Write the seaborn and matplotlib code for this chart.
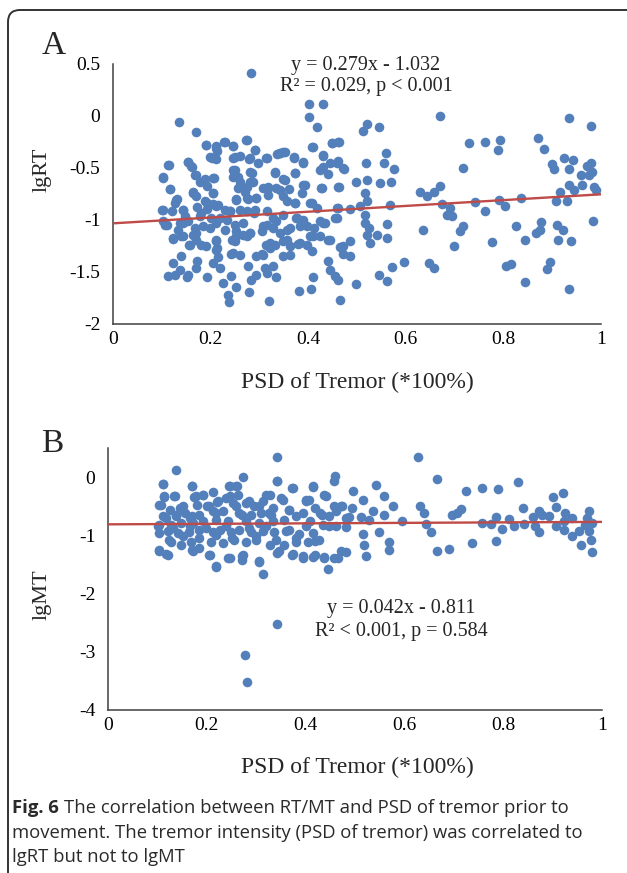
import numpy as np
import matplotlib.pyplot as plt
import seaborn as sns
from matplotlib.patches import FancyBboxPatch
from matplotlib.transforms import IdentityTransform
from matplotlib.ticker import FuncFormatter

# ---- Panel A: lgRT vs PSD of tremor ----
rt_psd = [
    0.283, 0.136, 0.171, 0.190, 0.211, 0.214, 0.227, 0.245, 0.272, 0.291,
    0.313, 0.337, 0.198, 0.212, 0.246, 0.260, 0.279, 0.298, 0.114, 0.154,
    0.159, 0.103, 0.116, 0.168, 0.178, 0.207, 0.192, 0.164, 0.171, 0.205,
    0.250, 0.246, 0.260, 0.274, 0.284, 0.287, 0.257, 0.270, 0.253, 0.277,
    0.294, 0.308, 0.318, 0.332, 0.335, 0.318, 0.131, 0.127, 0.101, 0.120,
    0.144, 0.147, 0.172, 0.188, 0.192, 0.205, 0.216, 0.229, 0.240, 0.181,
    0.201, 0.219, 0.260, 0.274, 0.291, 0.315, 0.328, 0.103, 0.110, 0.137,
    0.154, 0.168, 0.185, 0.212, 0.229, 0.250, 0.253, 0.267, 0.281, 0.305,
    0.315, 0.328, 0.133, 0.122, 0.140, 0.163, 0.171, 0.156, 0.181, 0.190,
    0.211, 0.214, 0.243, 0.250, 0.274, 0.313, 0.322, 0.332, 0.140, 0.122,
    0.137, 0.172, 0.171, 0.205, 0.216, 0.219, 0.241, 0.260, 0.276, 0.294,
    0.305, 0.311, 0.328, 0.113, 0.127, 0.151, 0.154, 0.193, 0.242, 0.226,
    0.252, 0.283, 0.294, 0.315, 0.335, 0.279, 0.236, 0.237, 0.320,
    # middle
    0.402, 0.431, 0.402, 0.418, 0.520, 0.513, 0.545, 0.671, 0.409, 0.448,
    0.463, 0.342, 0.352, 0.370, 0.390, 0.431, 0.431, 0.445, 0.462, 0.474,
    0.441, 0.519, 0.560, 0.556, 0.576, 0.373, 0.352, 0.390, 0.387, 0.361,
    0.426, 0.463, 0.498, 0.521, 0.548, 0.570, 0.630, 0.643, 0.657, 0.671,
    0.517, 0.520, 0.356, 0.373, 0.407, 0.418, 0.462, 0.486, 0.506, 0.568,
    0.674, 0.517, 0.517, 0.459, 0.349, 0.377, 0.390, 0.424, 0.434, 0.363,
    0.383, 0.411, 0.404, 0.424, 0.441, 0.524, 0.520, 0.541, 0.561, 0.561,
    0.526, 0.636, 0.349, 0.363, 0.380, 0.397, 0.407, 0.349, 0.465, 0.471,
    0.486, 0.486, 0.440, 0.445, 0.455, 0.462, 0.410, 0.405, 0.382, 0.465,
    0.498, 0.546, 0.561, 0.572, 0.597, 0.647, 0.657, 0.684,
    # right
    0.729, 0.763, 0.794, 0.789, 0.871, 0.883, 0.934, 0.980, 0.717, 0.899,
    0.903, 0.925, 0.943, 0.934, 0.972, 0.979, 0.982, 0.975, 0.958, 0.934,
    0.944, 0.962, 0.986, 0.989, 0.916, 0.907, 0.931, 0.741, 0.690, 0.695,
    0.763, 0.790, 0.803, 0.836, 0.717, 0.712, 0.699, 0.777, 0.826, 0.845,
    0.866, 0.878, 0.876, 0.910, 0.922, 0.912, 0.938, 0.983, 0.806, 0.816,
    0.895, 0.889, 0.845, 0.934,
    # dense core
    0.190, 0.212, 0.229, 0.246, 0.274, 0.291, 0.202, 0.250, 0.281, 0.315,
    0.342, 0.349, 0.370, 0.390, 0.407, 0.431, 0.448, 0.462, 0.113, 0.154,
    0.161, 0.103, 0.116, 0.171, 0.188, 0.205, 0.246, 0.257, 0.281, 0.281,
    0.332, 0.349, 0.373, 0.393, 0.424, 0.458, 0.472, 0.428, 0.462, 0.164,
    0.205, 0.130, 0.103, 0.144, 0.192, 0.212, 0.240, 0.253, 0.274, 0.294,
    0.318, 0.342, 0.349, 0.373, 0.404, 0.458, 0.106, 0.144, 0.178, 0.199,
    0.233, 0.267, 0.288, 0.308, 0.335, 0.356, 0.376, 0.397, 0.431, 0.455,
    0.123, 0.144, 0.171, 0.212, 0.253, 0.281, 0.322, 0.342, 0.356, 0.383,
    0.410, 0.445, 0.472, 0.157, 0.212, 0.246, 0.308, 0.363,
]
rt_lg = [
    0.41, -0.054, -0.157, -0.28, -0.285, -0.34, -0.246, -0.285, -0.234, -0.326,
    -0.406, -0.368, -0.39, -0.416, -0.406, -0.384, -0.413, -0.454, -0.47, -0.438,
    -0.48, -0.59, -0.70, -0.566, -0.63, -0.598, -0.669, -0.726, -0.768, -0.742,
    -0.518, -0.582, -0.63, -0.678, -0.55, -0.63, -0.694, -0.726, -0.797, -0.797,
    -0.79, -0.694, -0.678, -0.55, -0.694, -0.758, -0.797, -0.838, -0.902, -0.918,
    -0.902, -0.966, -0.877, -0.822, -0.893, -0.848, -0.854, -0.902, -0.918, -0.934,
    -0.982, -0.982, -0.902, -0.918, -0.902, -0.918, -0.982, -1.014, -1.046, -1.03,
    -1.014, -1.078, -1.062, -1.03, -1.094, -1.046, -1.11, -1.142, -1.126, -1.11,
    -1.046, -1.078, -1.094, -1.18, -1.158, -1.142, -1.19, -1.245, -1.238, -1.254,
    -1.2, -1.27, -1.19, -1.206, -1.158, -1.245, -1.27, -1.238, -1.344, -1.414,
    -1.478, -1.395, -1.459, -1.41, -1.36, -1.459, -1.328, -1.334, -1.443, -1.35,
    -1.328, -1.462, -1.443, -1.542, -1.532, -1.552, -1.526, -1.552, -1.536, -1.609,
    -1.641, -1.577, -1.526, -1.51, -1.552, -1.695, -1.724, -1.791, -1.775,
    # middle
    0.112, 0.112, -0.006, -0.102, -0.077, -0.141, -0.109, 0.0, -0.298, -0.262,
    -0.253, -0.358, -0.342, -0.394, -0.445, -0.381, -0.486, -0.454, -0.432, -0.509,
    -0.56, -0.448, -0.352, -0.448, -0.512, -0.55, -0.614, -0.662, -0.742, -0.70,
    -0.688, -0.678, -0.63, -0.614, -0.64, -0.637, -0.733, -0.774, -0.726, -0.669,
    -0.742, -0.822, -0.822, -0.838, -0.838, -0.886, -0.88, -0.893, -0.87, -0.86,
    -0.848, -0.95, -1.03, -0.982, -0.95, -0.982, -0.998, -1.014, -1.03, -1.078,
    -1.062, -1.078, -1.158, -1.158, -1.19, -1.078, -1.142, -1.142, -1.04, -1.174,
    -1.222, -1.094, -1.206, -1.254, -1.232, -1.238, -1.302, -1.35, -1.264, -1.328,
    -1.206, -1.35, -1.392, -1.478, -1.542, -1.574, -1.552, -1.66, -1.686, -1.766,
    -1.612, -1.532, -1.59, -1.452, -1.404, -1.414, -1.462, -0.95,
    # right
    -0.256, -0.246, -0.23, -0.326, -0.208, -0.32, -0.016, -0.096, -0.496, -0.464,
    -0.512, -0.406, -0.422, -0.512, -0.48, -0.454, -0.534, -0.566, -0.572, -0.662,
    -0.71, -0.662, -0.678, -0.71, -0.726, -0.813, -0.822, -0.829, -0.88, -0.966,
    -0.912, -0.806, -0.87, -0.79, -1.062, -1.104, -1.248, -1.216, -1.056, -1.19,
    -1.126, -1.024, -1.094, -1.046, -1.094, -1.19, -1.206, -1.014, -1.44, -1.42,
    -1.404, -1.472, -1.6, -1.664,
    # dense core
    -0.278, -0.31, -0.246, -0.288, -0.23, -0.326, -0.406, -0.396, -0.406, -0.406,
    -0.358, -0.342, -0.406, -0.448, -0.30, -0.374, -0.262, -0.252, -0.47, -0.438,
    -0.486, -0.592, -0.704, -0.566, -0.608, -0.598, -0.518, -0.582, -0.534, -0.63,
    -0.534, -0.608, -0.55, -0.662, -0.518, -0.454, -0.502, -0.694, -0.684, -0.742,
    -0.742, -0.806, -0.902, -0.902, -0.838, -0.87, -0.918, -0.806, -0.79, -0.79,
    -0.694, -0.71, -0.774, -0.838, -0.838, -0.886, -1.046, -1.03, -0.966, -1.078,
    -0.998, -1.03, -0.934, -1.062, -1.014, -1.094, -0.982, -1.062, -1.03, -0.982,
    -1.174, -1.158, -1.126, -1.19, -1.158, -1.126, -1.222, -1.126, -1.19, -1.222,
    -1.158, -1.19, -1.254, -1.238, -1.286, -1.318, -1.334, -1.334,
]

# ---- Panel B: lgMT vs PSD of tremor ----
mt_psd = [
    0.137, 0.112, 0.170, 0.273, 0.244, 0.259, 0.213, 0.342, 0.342, 0.114,
    0.135, 0.108, 0.125, 0.145, 0.155, 0.174, 0.192, 0.180, 0.200, 0.220,
    0.239, 0.263, 0.254, 0.279, 0.296, 0.313, 0.327, 0.333, 0.212, 0.232,
    0.185, 0.165, 0.138, 0.118, 0.266, 0.290, 0.310, 0.330, 0.104, 0.128,
    0.148, 0.172, 0.192, 0.219, 0.242, 0.279, 0.306, 0.333, 0.103, 0.121,
    0.141, 0.164, 0.185, 0.212, 0.226, 0.249, 0.266, 0.290, 0.313, 0.337,
    0.128, 0.148, 0.168, 0.185, 0.209, 0.232, 0.256, 0.279, 0.300, 0.327,
    0.343, 0.103, 0.118, 0.172, 0.207, 0.242, 0.274, 0.271, 0.219, 0.305,
    0.313, 0.343, 0.277, 0.281,
    # middle
    0.628, 0.459, 0.666, 0.375, 0.414, 0.543, 0.495, 0.441, 0.559, 0.517,
    0.354, 0.400, 0.406, 0.472, 0.494, 0.458, 0.576, 0.632, 0.640, 0.537,
    0.559, 0.367, 0.394, 0.429, 0.448, 0.488, 0.512, 0.529, 0.357, 0.408,
    0.435, 0.461, 0.482, 0.595, 0.643, 0.653, 0.549, 0.517, 0.360, 0.387,
    0.414, 0.381, 0.404, 0.428, 0.357, 0.519, 0.568, 0.568, 0.667, 0.374,
    0.394, 0.414, 0.438, 0.465, 0.481, 0.522, 0.445,
    # right
    0.724, 0.758, 0.789, 0.830, 0.921, 0.900, 0.906, 0.840, 0.714, 0.707,
    0.696, 0.785, 0.812, 0.758, 0.775, 0.798, 0.822, 0.842, 0.860, 0.872,
    0.879, 0.892, 0.865, 0.873, 0.906, 0.923, 0.926, 0.939, 0.924, 0.939,
    0.953, 0.966, 0.974, 0.970, 0.980, 0.973, 0.977, 0.957, 0.979, 0.737,
    0.786, 0.690,
    # dense band
    0.111, 0.170, 0.246, 0.262, 0.343, 0.373, 0.414, 0.458, 0.114, 0.134,
    0.178, 0.192, 0.246, 0.222, 0.286, 0.320, 0.350, 0.400, 0.437, 0.474,
    0.104, 0.151, 0.205, 0.259, 0.306, 0.367, 0.420, 0.461, 0.111, 0.138,
    0.171, 0.219, 0.272, 0.326, 0.380, 0.434, 0.481, 0.101, 0.131, 0.165,
    0.198, 0.239, 0.286, 0.320, 0.367, 0.400, 0.447, 0.124, 0.151, 0.185,
    0.219, 0.252, 0.299, 0.340, 0.380, 0.420, 0.104, 0.121, 0.171, 0.205,
    0.246, 0.272, 0.306, 0.346, 0.373, 0.394, 0.420, 0.437, 0.471, 0.219, 0.458,
]
mt_lg = [
    0.126, -0.115, -0.149, 0.0, -0.16, -0.16, -0.264, 0.344, -0.075, -0.344,
    -0.332, -0.476, -0.562, -0.533, -0.619, -0.35, -0.315, -0.476, -0.504, -0.43,
    -0.361, -0.304, -0.447, -0.447, -0.504, -0.418, -0.304, -0.533, -0.59, -0.59,
    -0.648, -0.705, -0.676, -0.705, -0.619, -0.648, -0.619, -0.648, -0.82, -0.82,
    -0.791, -0.791, -0.762, -0.734, -0.762, -0.762, -0.791, -0.762, -0.963, -0.923,
    -0.963, -0.946, -0.905, -0.946, -0.905, -0.946, -0.905, -0.946, -0.923, -0.946,
    -1.106, -1.163, -1.106, -1.221, -1.106, -1.135, -1.077, -1.106, -1.077, -1.163,
    -1.307, -1.261, -1.324, -1.267, -1.335, -1.393, -1.335, -1.421, -1.547, -1.461,
    -1.656, -2.521, -3.054, -3.524,
    # middle
    0.344, 0.011, -0.034, -0.189, -0.178, -0.143, -0.246, -0.332, -0.332, -0.401,
    -0.39, -0.418, -0.401, -0.504, -0.522, -0.504, -0.504, -0.504, -0.619, -0.59,
    -0.648, -0.562, -0.619, -0.619, -0.676, -0.693, -0.693, -0.734, -0.734, -0.762,
    -0.82, -0.848, -0.865, -0.762, -0.808, -0.946, -0.946, -0.98, -0.934, -0.98,
    -0.963, -1.106, -1.106, -1.077, -1.163, -1.163, -1.106, -1.249, -1.267, -1.324,
    -1.381, -1.364, -1.364, -1.393, -1.278, -1.352, -1.576,
    # right
    -0.246, -0.189, -0.201, -0.086, -0.275, -0.35, -0.516, -0.522, -0.544, -0.619,
    -0.648, -0.693, -0.716, -0.791, -0.808, -0.888, -0.848, -0.808, -0.693, -0.59,
    -0.648, -0.676, -0.848, -0.946, -0.848, -0.762, -0.619, -0.705, -0.905, -1.02,
    -0.934, -0.82, -0.579, -0.705, -0.791, -0.934, -1.077, -1.163, -1.278, -1.135,
    -1.095, -1.238,
    # dense band
    -0.115, -0.149, -0.149, -0.161, -0.075, -0.189, -0.161, -0.075, -0.332, -0.321,
    -0.321, -0.304, -0.332, -0.418, -0.418, -0.304, -0.361, -0.39, -0.304, -0.504,
    -0.476, -0.504, -0.504, -0.504, -0.504, -0.561, -0.533, -0.59, -0.676, -0.647,
    -0.676, -0.619, -0.647, -0.619, -0.676, -0.647, -0.705, -0.848, -0.876, -0.848,
    -0.876, -0.848, -0.876, -0.848, -0.905, -0.848, -0.848, -1.077, -1.02, -1.048,
    -0.991, -1.048, -1.02, -1.077, -1.048, -1.105, -1.249, -1.335, -1.249, -1.335,
    -1.392, -1.363, -1.449, -1.277, -1.335, -1.363, -1.335, -1.392, -1.277, -1.535, -1.392,
]

# reported linear fits
rt_fit = (0.279, -1.032)
mt_fit = (0.042, -0.811)
rt_text = ["y = 0.279x - 1.032", "R\u00b2 = 0.029, p < 0.001"]
mt_text = ["y = 0.042x - 0.811", "R\u00b2 < 0.001, p = 0.584"]

x_ticks = [0, 0.2, 0.4, 0.6, 0.8, 1]
rt_ticks = [0.5, 0, -0.5, -1, -1.5, -2]
mt_ticks = [0, -1, -2, -3, -4]

DOT = "#5380BA"
FIT = "#BE4B48"
AXC = "#404040"

sns.set_style("white")
plt.rcParams["font.family"] = ["Liberation Serif", "DejaVu Serif"]
plt.rcParams["axes.unicode_minus"] = False

W, H = 627, 873
fig = plt.figure(figsize=(W / 100, H / 100), dpi=100)


def box(l, t, r, b):
    # pixel box -> figure fraction
    return [l / W, 1 - b / H, (r - l) / W, (b - t) / H]


def px(x, y):
    return x / W, 1 - y / H


ax_a = fig.add_axes(box(113, 64, 601, 324))
ax_b = fig.add_axes(box(108, 448, 602, 710))

panels = [
    (ax_a, rt_psd, rt_lg, rt_fit, rt_ticks, (-2, 0.5)),
    (ax_b, mt_psd, mt_lg, mt_fit, mt_ticks, (-4, 0.5)),
]
for ax, xs, ys, fit, yt, ylim in panels:
    sns.scatterplot(x=xs, y=ys, ax=ax, color=DOT, s=48, linewidth=0, zorder=2)
    fx = np.array([0.0, 1.0])
    sns.lineplot(x=fx, y=fit[0] * fx + fit[1], ax=ax, color=FIT, lw=1.7, zorder=3)
    ax.set_xlim(0, 1)
    ax.set_ylim(*ylim)
    ax.set_xticks(x_ticks)
    ax.set_yticks(yt)
    fmt = FuncFormatter(lambda v, p: "%g" % v)
    ax.xaxis.set_major_formatter(fmt)
    ax.yaxis.set_major_formatter(fmt)
    sns.despine(ax=ax)
    for s in ("left", "bottom"):
        ax.spines[s].set_color(AXC)
        ax.spines[s].set_linewidth(1.1)
    ax.tick_params(direction="in", length=5, width=1.0, color=AXC,
                   labelsize=14, labelcolor="black")
    ax.tick_params(axis="y", pad=9)
    ax.tick_params(axis="x", pad=5)
    ax.set_xlabel("")
    ax.set_ylabel("")

# axis titles
fig.text(*px(357, 388), "PSD of Tremor (*100%)", fontsize=17, ha="center", va="baseline")
fig.text(*px(357, 773), "PSD of Tremor (*100%)", fontsize=17, ha="center", va="baseline")
fig.text(*px(42, 170), "lgRT", fontsize=16, rotation=90, ha="center", va="center")
fig.text(*px(42, 595), "lgMT", fontsize=16, rotation=90, ha="center", va="center")

# panel letters
fig.text(*px(42, 54), "A", fontsize=24, va="baseline")
fig.text(*px(41, 452), "B", fontsize=24, va="baseline")

# regression annotations
for i, t in enumerate(rt_text):
    fig.text(*px(366, 70 + 21 * i), t, fontsize=14.5, ha="center", va="baseline")
for i, t in enumerate(mt_text):
    fig.text(*px(401, 613 + 23 * i), t, fontsize=14.5, ha="center", va="baseline")

# frame with rounded corner
frame = FancyBboxPatch((8, -30), 720, H - 10 + 30,
                       boxstyle="round,pad=0,rounding_size=12",
                       transform=IdentityTransform(), fill=False,
                       ec="#333333", lw=1.4)
fig.add_artist(frame)

# caption
cap_font = "Open Sans"
cap_col = "#2a2a2a"
cap_size = 13.3
r = fig.canvas.get_renderer()
t0 = fig.text(*px(12, 813), "Fig. 6", fontsize=cap_size, fontweight="bold",
              family=cap_font, color=cap_col, va="baseline")
bb = t0.get_window_extent(renderer=r)
fig.text((bb.x1 + 5) / W, 1 - 813 / H,
         "The correlation between RT/MT and PSD of tremor prior to",
         fontsize=cap_size, family=cap_font, color=cap_col, va="baseline")
fig.text(*px(12, 838), "movement. The tremor intensity (PSD of tremor) was correlated to",
         fontsize=cap_size, family=cap_font, color=cap_col, va="baseline")
fig.text(*px(12, 862), "lgRT but not to lgMT",
         fontsize=cap_size, family=cap_font, color=cap_col, va="baseline")

fig.savefig("out.png", dpi=100)
